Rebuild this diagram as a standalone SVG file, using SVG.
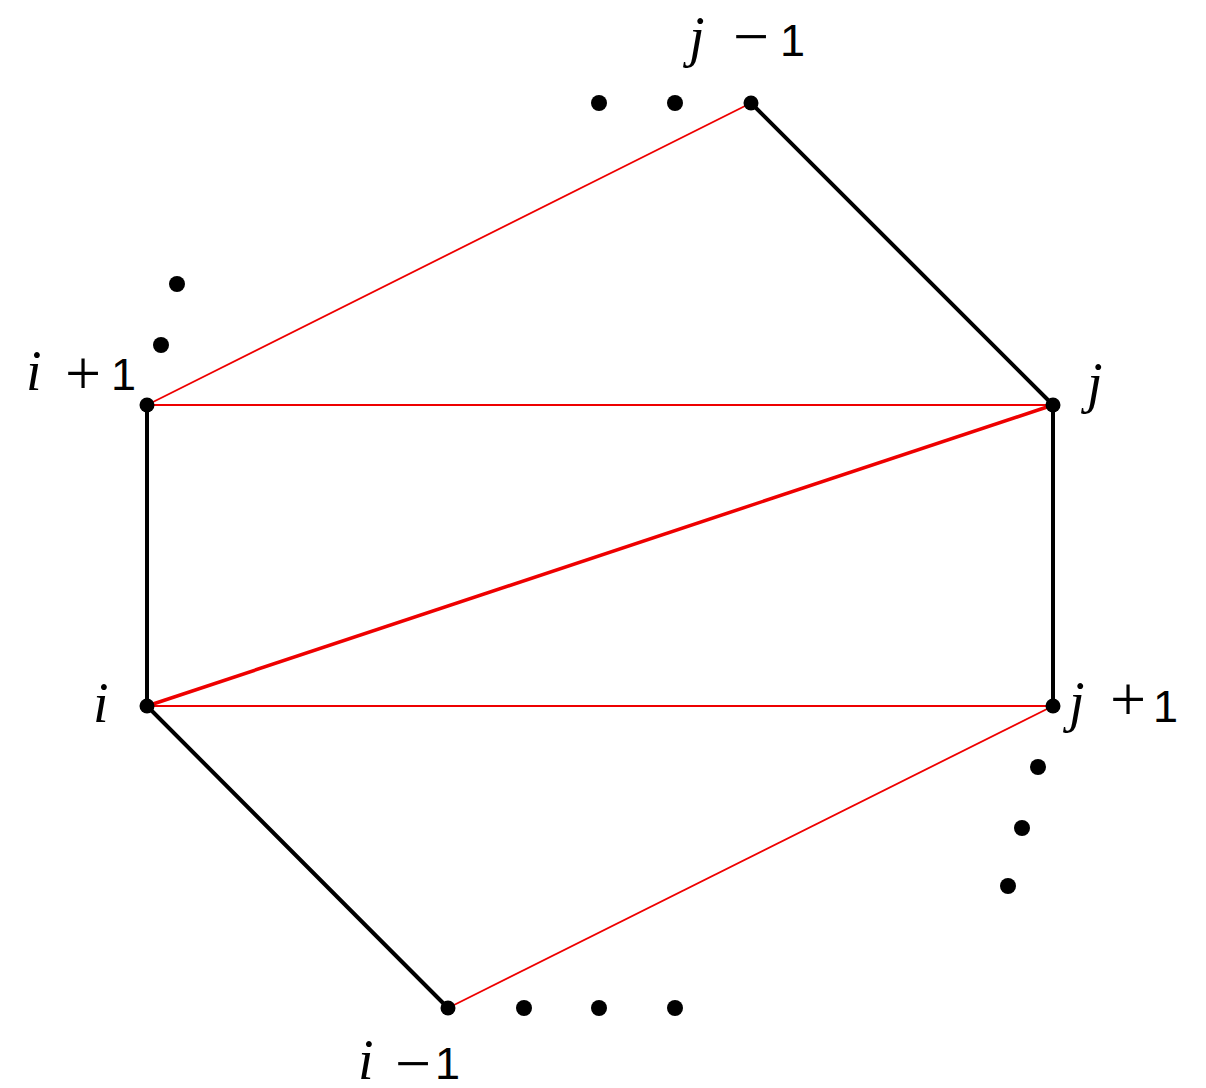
<svg xmlns="http://www.w3.org/2000/svg" width="1206" height="1088" viewBox="0 0 1206 1088">
<style>
.blk{stroke:#000;stroke-width:4;fill:none;stroke-linecap:round}
.red{stroke:#e00;stroke-width:1.8;fill:none}
.redt{stroke:#e00;stroke-width:3.5;fill:none}
.v{fill:#000}
.d{fill:#000}
.it{font-family:'Liberation Serif','DejaVu Serif',serif;font-style:italic;font-size:56px;fill:#000}
.op{font-family:'Liberation Serif','DejaVu Serif',serif;font-size:64px;fill:#000;text-anchor:middle}
.one{font-family:'Liberation Sans','DejaVu Sans',Arial,sans-serif;font-size:45px;fill:#000}
</style>
<rect width="1206" height="1088" fill="#fff"/>
<g id="connectors">
<line class="blk" x1="751" y1="103" x2="1053" y2="405"/>
<line class="blk" x1="147" y1="405" x2="147" y2="706"/>
<line class="blk" x1="1053" y1="405" x2="1053" y2="706"/>
<line class="blk" x1="147" y1="706" x2="448" y2="1008"/>
<line class="red" x1="751" y1="103" x2="147" y2="405"/>
<line class="red" x1="147" y1="405" x2="1053" y2="405"/>
<line class="red" x1="147" y1="706" x2="1053" y2="706"/>
<line class="red" x1="1053" y1="706" x2="448" y2="1008"/>
<line class="redt" x1="147" y1="706" x2="1053" y2="405"/>
</g>
<g id="node-jm1"><circle class="v" cx="751" cy="103" r="7.5"/>
<text class="it" x="689" y="56">j</text><text class="op" x="751" y="58">−</text><text class="one" x="780" y="56">1</text></g>
<g id="node-j"><circle class="v" cx="1053" cy="405" r="7.5"/><text class="it" x="1087" y="402">j</text></g>
<g id="node-jp1"><circle class="v" cx="1053" cy="706" r="7.5"/>
<text class="it" x="1069" y="721">j</text><text class="op" x="1128" y="721">+</text><text class="one" x="1153" y="722">1</text></g>
<g id="node-i"><circle class="v" cx="147" cy="706" r="7.5"/><text class="it" x="93" y="722">i</text></g>
<g id="node-ip1"><circle class="v" cx="147" cy="405" r="7.5"/>
<text class="it" x="26" y="390">i</text><text class="op" x="83" y="395">+</text><text class="one" x="111" y="390">1</text></g>
<g id="node-im1"><circle class="v" cx="448" cy="1008" r="7.5"/>
<text class="it" x="358" y="1079">i</text><text class="op" x="413" y="1085">−</text><text class="one" x="435" y="1079">1</text></g>
<g id="ellipses">
<circle class="d" cx="599" cy="103" r="8"/><circle class="d" cx="675" cy="103" r="8"/>
<circle class="d" cx="177" cy="284" r="8"/><circle class="d" cx="161" cy="345" r="8"/>
<circle class="d" cx="1038" cy="767" r="8"/><circle class="d" cx="1022" cy="828" r="8"/><circle class="d" cx="1008" cy="886" r="8"/>
<circle class="d" cx="524" cy="1008" r="8"/><circle class="d" cx="599" cy="1008" r="8"/><circle class="d" cx="675" cy="1008" r="8"/>
</g>
</svg>
